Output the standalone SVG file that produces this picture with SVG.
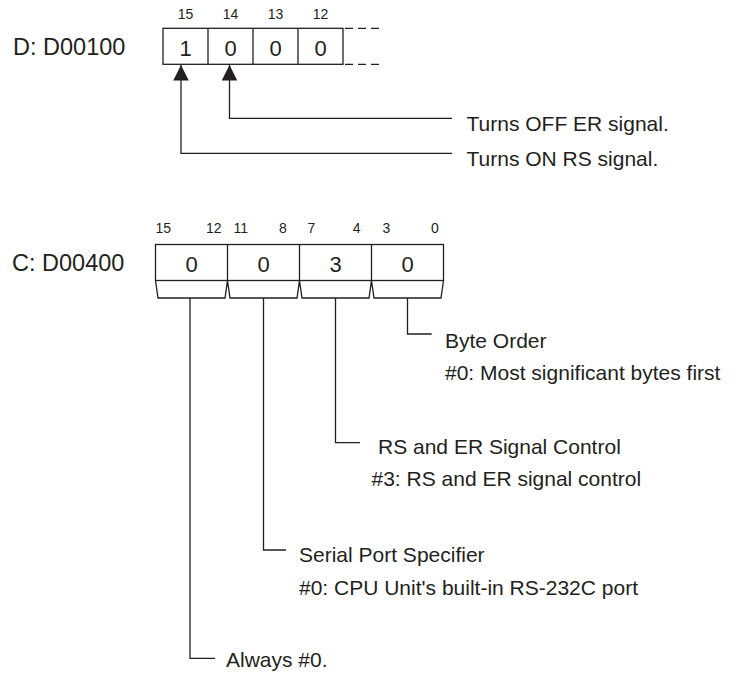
<svg xmlns="http://www.w3.org/2000/svg" width="736" height="673" viewBox="0 0 736 673">
<defs>
<style>
text{font-family:"Liberation Sans",Arial,Helvetica,sans-serif;fill:#231f20}
.name{font-size:23.5px}
.bit{font-size:14px}
.dig{font-size:22px;text-anchor:middle}
.lbl{font-size:21px}
.mid{text-anchor:middle}
.end{text-anchor:end}
.box{fill:#fff;stroke:#231f20;stroke-width:1.3}
.ln{fill:none;stroke:#231f20;stroke-width:1.3}
.dash{fill:none;stroke:#231f20;stroke-width:1.2;stroke-dasharray:8 5}
</style>
<marker id="arr" viewBox="0 0 16 16" refX="16" refY="8" markerUnits="userSpaceOnUse" markerWidth="16" markerHeight="15.5" orient="auto">
<path d="M0,0 L16,8 L0,16 z" fill="#231f20"/>
</marker>
</defs>
<rect width="736" height="673" fill="#fff"/>

<g id="reg-d">
<text class="name" x="13" y="55">D: D00100</text>
<text class="bit mid" x="185.5" y="18.5">15</text>
<text class="bit mid" x="230.5" y="18.5">14</text>
<text class="bit mid" x="275.5" y="18.5">13</text>
<text class="bit mid" x="320.5" y="18.5">12</text>
<rect class="box" x="163" y="28.3" width="180" height="36"/>
<path class="ln" d="M208,28.3 V64.3 M253,28.3 V64.3 M298,28.3 V64.3"/>
<path class="dash" d="M345,28.3 H382 M345,64.3 H382"/>
<text class="dig" x="185.5" y="56">1</text>
<text class="dig" x="230.5" y="56">0</text>
<text class="dig" x="275.5" y="56">0</text>
<text class="dig" x="320.5" y="56">0</text>
</g>

<g id="reg-c">
<text class="name" x="12" y="271">C: D00400</text>
<text class="bit" x="155.5" y="233">15</text>
<text class="bit end" x="221.5" y="233">12</text>
<text class="bit" x="233.5" y="233">11</text>
<text class="bit end" x="286.7" y="233">8</text>
<text class="bit" x="307.5" y="233">7</text>
<text class="bit end" x="360.5" y="233">4</text>
<text class="bit" x="382.5" y="233">3</text>
<text class="bit end" x="438.7" y="233">0</text>
<rect class="box" x="155.5" y="244.5" width="288" height="36"/>
<path class="ln" d="M227.5,244.5 V280.5 M299.5,244.5 V280.5 M371.5,244.5 V280.5"/>
<path class="ln" d="M155.5,280.5 L158,298 L225,298 L227.5,280.5 M227.5,280.5 L230,298 L297,298 L299.5,280.5 M299.5,280.5 L302,298 L369,298 L371.5,280.5 M371.5,280.5 L374,298 L441,298 L443.5,280.5"/>
<text class="dig" x="191.5" y="272">0</text>
<text class="dig" x="263.5" y="272">0</text>
<text class="dig" x="335.5" y="272">3</text>
<text class="dig" x="407.5" y="272">0</text>
</g>

<g id="connectors">
<path class="ln" marker-end="url(#arr)" d="M452,118.3 H229.5 V65"/>
<path class="ln" marker-end="url(#arr)" d="M452,153.3 H181 V65"/>
<path class="ln" d="M407.5,298 V334 H431.7"/>
<path class="ln" d="M335.5,298 V442.7 H360"/>
<path class="ln" d="M263.5,298 V550 H286"/>
<path class="ln" d="M190,298 V658.3 H215"/>
</g>

<g id="label-er">
<text class="lbl" x="466.5" y="130.5">Turns OFF ER signal.</text>
</g>
<g id="label-rs">
<text class="lbl" x="466.5" y="165.5">Turns ON RS signal.</text>
</g>
<g id="label-byte">
<text class="lbl" x="445" y="347.5">Byte Order</text>
<text class="lbl" x="445" y="379.5">#0: Most significant bytes first</text>
</g>
<g id="label-rser">
<text class="lbl" x="378" y="453.5">RS and ER Signal Control</text>
<text class="lbl" x="371.5" y="486">#3: RS and ER signal control</text>
</g>
<g id="label-port">
<text class="lbl" x="299" y="562">Serial Port Specifier</text>
<text class="lbl" x="299" y="595">#0: CPU Unit's built-in RS-232C port</text>
</g>
<g id="label-always">
<text class="lbl" x="226" y="667">Always #0.</text>
</g>
</svg>
